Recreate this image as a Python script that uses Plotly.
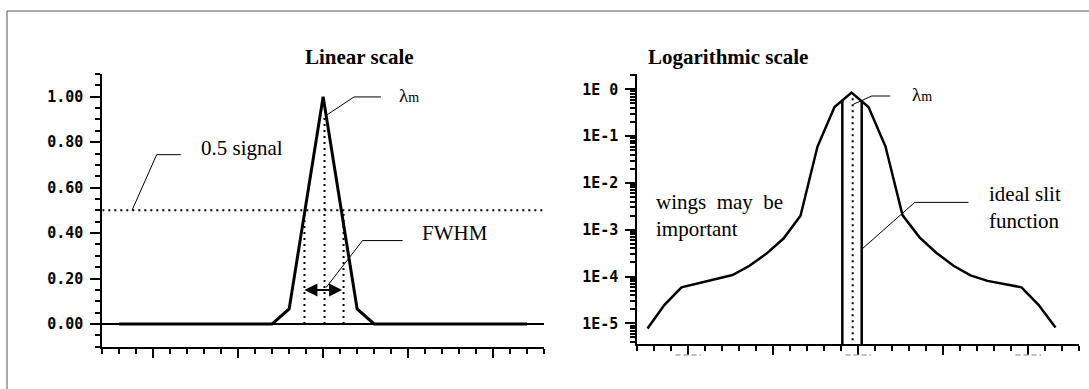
import plotly.graph_objects as go

# ---------------- data ----------------
# Linear-scale panel: triangular slit function (vertices)
lin_x = [-12, -3, -2, 0, 2, 3, 12]
lin_y = [0.0, 0.0, 0.066, 1.0, 0.066, 0.0, 0.0]
half_level = 0.5
fwhm_left = -1.1
fwhm_right = 1.2
peak_line_x = 0.08
peak_line_top = 0.918
arrow_y = 0.15

# Logarithmic-scale panel: measured slit function
log_x = [-12.4, -11.4, -10.4, -9.4, -8.4, -7.4, -6.4, -5.4, -4.4, -3.4, -2.4, -1.4,
         -0.4, 0.6, 1.6, 2.6, 3.6, 4.6, 5.6, 6.6, 7.6, 8.6, 9.6, 10.6, 11.6]
log_y = [7.8e-6, 2.5e-5, 5.9e-5, 7.2e-5, 8.7e-5, 1.08e-4, 1.7e-4, 3.1e-4, 6.5e-4, 2.0e-3,
         0.06, 0.42, 0.85, 0.42, 0.06, 2.06e-3, 6.9e-4, 3.2e-4, 1.7e-4, 1.06e-4,
         8.1e-5, 6.9e-5, 5.9e-5, 2.5e-5, 8.2e-6]
slit_edges = [-0.94, 0.2]
slit_top = 0.58
lambda_line_x = -0.33
lambda_line_top = 0.65

log_tickvals = [1e-5, 1e-4, 1e-3, 1e-2, 1e-1, 1]
log_ticktext = ["1E-5", "1E-4", "1E-3", "1E-2", "1E-1", "1E 0"]
lin_tickvals = [0.0, 0.2, 0.4, 0.6, 0.8, 1.0]
x_major = [-10, -5, 0, 5, 10]

# ---------------- styling ----------------
W, H = 1089, 389
SERIF = "Liberation Serif"
TICKFONT = dict(family="DejaVu Sans Mono", size=15, color="black", weight="bold")
BLACK = "black"


def px_x(p):
    return p / W


def px_y(p):
    return 1 - p / H


fig = go.Figure()

thin = dict(color=BLACK, width=1)
dotted = dict(color=BLACK, width=2, dash="2px,4px")

# ---- linear panel ----
fig.add_trace(go.Scatter(x=[-13, 13], y=[half_level, half_level], mode="lines",
                         line=dotted, xaxis="x", yaxis="y", hoverinfo="skip"))
for xv, top in [(fwhm_left, half_level), (fwhm_right, half_level), (peak_line_x, peak_line_top)]:
    fig.add_trace(go.Scatter(x=[xv, xv], y=[0, top], mode="lines", line=dotted,
                             xaxis="x", yaxis="y", hoverinfo="skip"))
fig.add_trace(go.Scatter(x=lin_x, y=lin_y, mode="lines",
                         line=dict(color=BLACK, width=3), xaxis="x", yaxis="y"))

# leader lines (linear panel)
for lx, ly in [([-11.25, -9.8, -8.38], [half_level, 0.745, 0.745]),
               ([0.18, 1.82, 3.4], [peak_line_top, 0.999, 0.999]),
               ([0.18, 2.32, 4.68], [0.161, 0.367, 0.367])]:
    fig.add_trace(go.Scatter(x=lx, y=ly, mode="lines", line=thin,
                             xaxis="x", yaxis="y", hoverinfo="skip"))

# ---- log panel ----
for xv in slit_edges:
    fig.add_trace(go.Scatter(x=[xv, xv], y=[1e-6, slit_top], mode="lines",
                             line=dict(color=BLACK, width=2.5), xaxis="x2", yaxis="y2",
                             hoverinfo="skip"))
fig.add_trace(go.Scatter(x=[lambda_line_x, lambda_line_x], y=[1e-6, lambda_line_top],
                         mode="lines", line=dotted, xaxis="x2", yaxis="y2", hoverinfo="skip"))
fig.add_trace(go.Scatter(x=log_x, y=log_y, mode="lines",
                         line=dict(color=BLACK, width=2.5), xaxis="x2", yaxis="y2"))
for lx, ly in [([-0.29, 0.79, 1.88], [0.48, 0.72, 0.72]),
               ([0.26, 3.32, 6.48], [4.0e-4, 3.85e-3, 3.85e-3])]:
    fig.add_trace(go.Scatter(x=lx, y=ly, mode="lines", line=thin,
                             xaxis="x2", yaxis="y2", hoverinfo="skip"))

# ---------------- axes ----------------
common_x = dict(range=[-13, 13], showgrid=False, zeroline=False, showline=True,
                linecolor=BLACK, linewidth=2, ticks="outside", ticklen=9, tickwidth=2,
                tickcolor=BLACK, tickmode="array", tickvals=x_major, showticklabels=False,
                minor=dict(ticks="outside", ticklen=5, tickwidth=2, tickcolor=BLACK,
                           dtick=1, tick0=0, showgrid=False))

fig.update_layout(
    width=W, height=H, autosize=False,
    margin=dict(l=0, r=0, t=0, b=0),
    paper_bgcolor="white", plot_bgcolor="white",
    showlegend=False,
    xaxis=dict(domain=[px_x(102.3), px_x(544)], anchor="y", **common_x),
    yaxis=dict(domain=[px_y(346.7), px_y(74)], anchor="x", range=[-0.10, 1.10],
               showgrid=False, zeroline=True, zerolinecolor=BLACK, zerolinewidth=1.5,
               showline=True, linecolor=BLACK, linewidth=2,
               ticks="outside", ticklen=10, tickwidth=2, tickcolor=BLACK,
               tickmode="array", tickvals=lin_tickvals, tickformat=".2f",
               tickfont=TICKFONT, ticklabelstandoff=4,
               minor=dict(ticks="outside", ticklen=5, tickwidth=2, tickcolor=BLACK,
                          dtick=0.05, tick0=0, showgrid=False)),
    xaxis2=dict(domain=[px_x(637.3), px_x(1079.3)], anchor="y2", **common_x),
    yaxis2=dict(domain=[px_y(344), px_y(73.5)], anchor="x2", type="log",
                range=[-5.44, 0.338], showgrid=False, zeroline=False,
                showline=True, linecolor=BLACK, linewidth=2,
                ticks="outside", ticklen=10, tickwidth=2, tickcolor=BLACK,
                tickmode="array", tickvals=log_tickvals, ticktext=log_ticktext,
                tickfont=TICKFONT, ticklabelstandoff=4,
                minor=dict(ticks="outside", ticklen=5, tickwidth=2, tickcolor=BLACK,
                           dtick="D1", showgrid=False)),
)

# ---------------- annotations ----------------
text_font = dict(family=SERIF, size=21, color=BLACK)
ann = [
    dict(text="<b>Linear scale</b>", x=px_x(302.5), y=px_y(43.3), xref="paper", yref="paper",
         showarrow=False, font=text_font),
    dict(text="<b>Logarithmic scale</b>", x=px_x(809.6), y=px_y(43.3), xref="paper",
         yref="paper", showarrow=False, font=text_font),
    dict(text="0.5 signal", x=-7.31, y=0.776, xref="x", yref="y", xanchor="left",
         showarrow=False, font=text_font),
    dict(text="FWHM", x=5.69, y=0.399, xref="x", yref="y", xanchor="left",
         showarrow=False, font=text_font),
    dict(text="λ<span style='font-size:14px'>m</span>", x=4.37, y=1.007, xref="x",
         yref="y", xanchor="left", showarrow=False,
         font=dict(family=SERIF, size=19, color=BLACK)),
    dict(text="λ<span style='font-size:14px'>m</span>", x=3.02, y=-0.107, xref="x2",
         yref="y2", xanchor="left", showarrow=False,
         font=dict(family=SERIF, size=19, color=BLACK)),
    dict(text="wings  may  be<br>important", x=-12.0, y=-2.686, xref="x2", yref="y2",
         xanchor="left", align="left", showarrow=False, font=text_font),
    dict(text="ideal slit<br>function", x=7.57, y=-2.526, xref="x2", yref="y2",
         xanchor="left", align="left", showarrow=False, font=text_font),
    # FWHM double arrow
    dict(text="", x=fwhm_left, y=arrow_y, ax=fwhm_right, ay=arrow_y,
         xref="x", yref="y", axref="x", ayref="y", showarrow=True,
         arrowhead=2, arrowside="end+start", arrowsize=1.3, arrowwidth=2,
         arrowcolor=BLACK, standoff=0, startstandoff=0),
]
fig.update_layout(annotations=ann)

# ---------------- frame and clipped tick-label remnants ----------------
shapes = [dict(type="rect", xref="paper", yref="paper", x0=px_x(7), x1=1.2, y0=-0.2,
               y1=px_y(11), line=dict(color="#555555", width=1), fillcolor="rgba(0,0,0,0)")]
for v in [-10, 0, 10]:
    shapes.append(dict(type="line", xref="x2", yref="paper", x0=v - 0.75, x1=v + 0.75,
                       y0=px_y(355), y1=px_y(355),
                       line=dict(color="#aaaaaa", width=1.5, dash="5px,3px")))
fig.update_layout(shapes=shapes)

fig.write_html("out.html")
